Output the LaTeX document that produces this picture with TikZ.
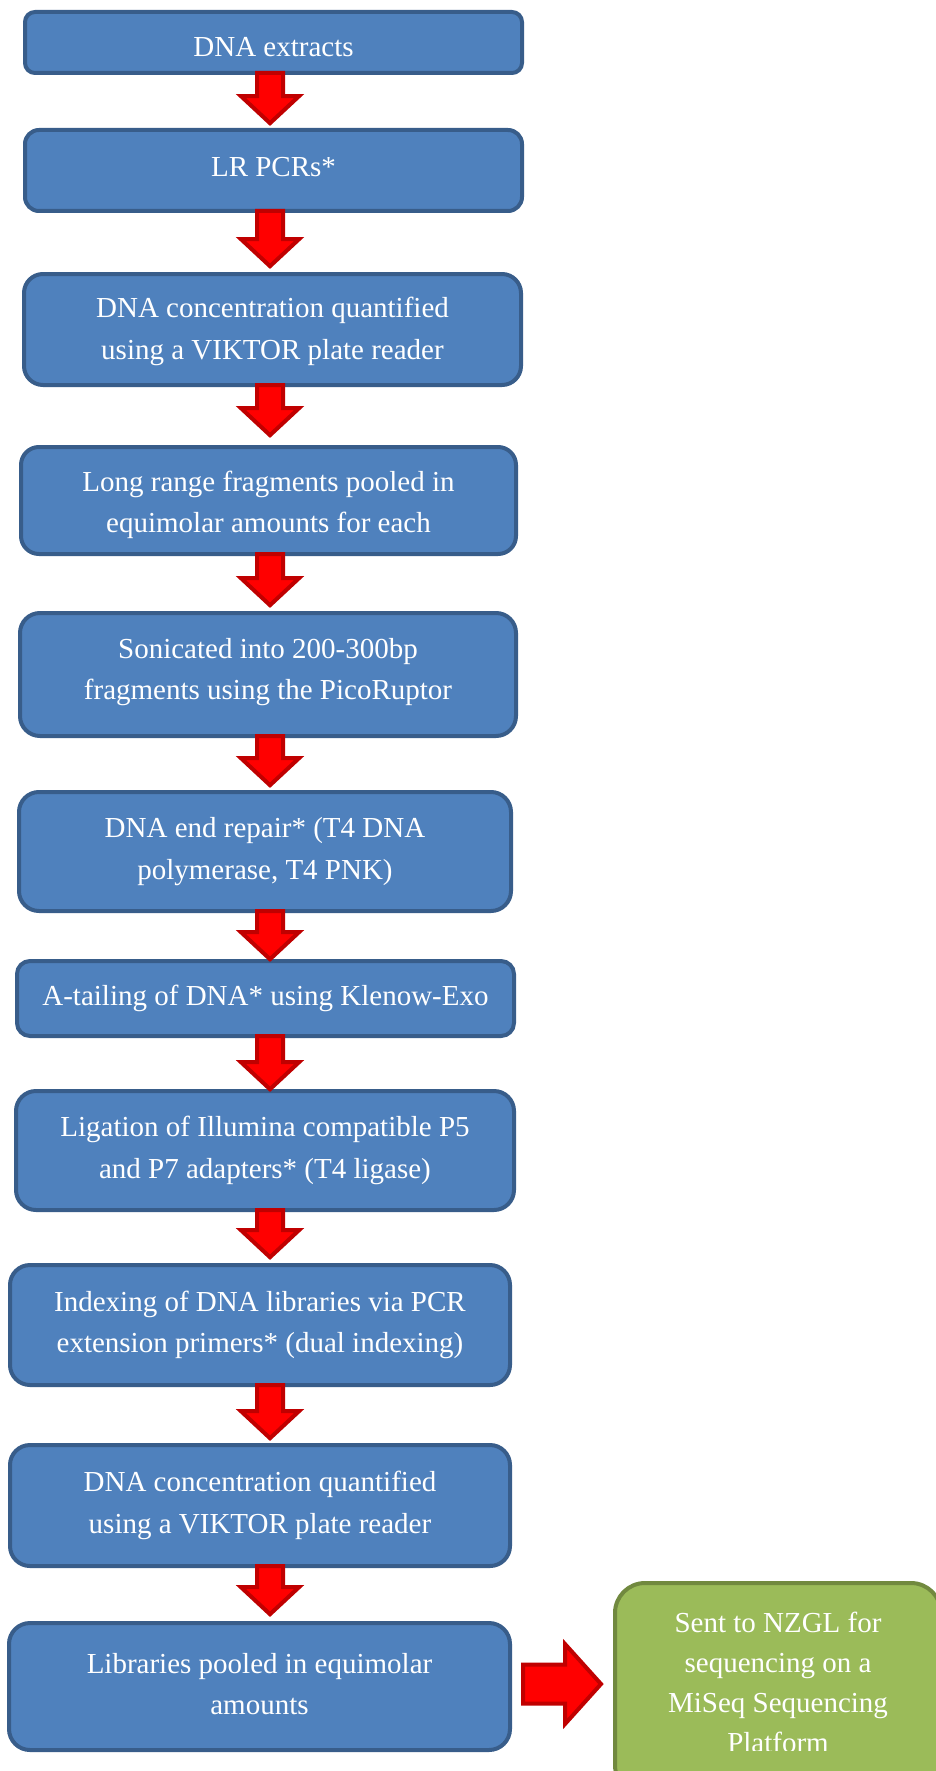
\documentclass[tikz,border=0pt]{standalone}
\usepackage{fontspec}
\setmainfont{Liberation Serif}
\usetikzlibrary{calc}
\definecolor{boxfill}{HTML}{4F81BD}
\definecolor{boxline}{HTML}{385D8A}
\definecolor{greenfill}{HTML}{9BBB59}
\definecolor{greenline}{HTML}{71893F}
\definecolor{arrowfill}{HTML}{FF0000}
\definecolor{arrowline}{HTML}{C00000}
\tikzset{
  flowbox/.style={draw=boxline, fill=boxfill, line width=4pt, rounded corners=#1,
    text=white, align=center, font=\fontsize{29}{41.5}\selectfont,
    inner sep=0pt, outer sep=0pt},
  flowbox/.default=15pt,
  greenbox/.style={draw=greenline, fill=greenfill, line width=4pt, rounded corners=30pt,
    inner sep=0pt, outer sep=0pt},
  greentext/.style={text=white, align=center, font=\fontsize{29}{40}\selectfont, inner sep=0pt},
  redarrow/.style={draw=arrowline, fill=arrowfill, line width=4pt, line join=miter},
}
\newcommand\liftline[2]{\raisebox{#1}[\height][\depth]{#2}}
\newcommand\flowarrow[3]{%
  \draw[redarrow] let \p1=(#1.south), \p2=(#2.north) in
    (257pt,\y1) -- (283pt,\y1) -- (283pt,\y2+#3pt+27pt) -- (299pt,\y2+#3pt+27pt)
    -- (270pt,\y2+#3pt) -- (241pt,\y2+#3pt+27pt) -- (257pt,\y2+#3pt+27pt) -- cycle;}
\begin{document}
\begin{tikzpicture}[x=1pt,y=-1pt]
\useasboundingbox (0,0) rectangle (935,1771);
\fill[white] (0,0) rectangle (935,1771);
\node[flowbox=10pt, minimum width=497pt, minimum height=61pt] (b1) at (273.5,42.5) {\liftline{-4.5pt}{DNA extracts}};
\node[flowbox=14pt, minimum width=497pt, minimum height=81pt] (b2) at (273.5,170.5) {\liftline{3.5pt}{LR PCRs*}};
\node[flowbox=19pt, minimum width=497pt, minimum height=111pt] (b3) at (272.5,329.5) {\liftline{-2pt}{DNA concentration quantified}\\\liftline{-2pt}{using a VIKTOR plate reader}};
\node[flowbox=18pt, minimum width=495pt, minimum height=107pt] (b4) at (268.5,500.5) {\liftline{-4.5pt}{Long range fragments pooled in}\\\liftline{-4.5pt}{equimolar amounts for each}};
\node[flowbox=20pt, minimum width=496pt, minimum height=123pt] (b5) at (268,674.5) {\liftline{2.5pt}{Sonicated into 200-300bp}\\\liftline{2.5pt}{fragments using the PicoRuptor}};
\node[flowbox=20pt, minimum width=492pt, minimum height=119pt] (b6) at (265,851.5) {DNA end repair* (T4 DNA\\polymerase, T4 PNK)};
\node[flowbox=13pt, minimum width=497pt, minimum height=75pt] (b7) at (265.5,998.5) {A-tailing of DNA* using Klenow-Exo};
\node[flowbox=20pt, minimum width=498pt, minimum height=119pt] (b8) at (265,1150.5) {Ligation of Illumina compatible P5\\and P7 adapters* (T4 ligase)};
\node[flowbox=20pt, minimum width=500pt, minimum height=120pt] (b9) at (260,1325) {Indexing of DNA libraries via PCR\\extension primers* (dual indexing)};
\node[flowbox=20pt, minimum width=500pt, minimum height=121pt] (b10) at (260,1505.5) {DNA concentration quantified\\using a VIKTOR plate reader};
\node[flowbox=21pt, minimum width=501pt, minimum height=127pt] (b11) at (259.5,1686.5) {\liftline{2.5pt}{Libraries pooled in equimolar}\\\liftline{2.5pt}{amounts}};
\node[greenbox, minimum width=326pt, minimum height=212pt] (green) at (778,1689) {};
\begin{scope}
  \clip (600,1585) rectangle (950,1750);
  \node[greentext, anchor=base] (gtext) at (778,1752) {Sent to NZGL for\\sequencing on a\\MiSeq Sequencing\\Platform};
\end{scope}
\flowarrow{b1}{b2}{6.8}
\flowarrow{b2}{b3}{7.8}
\flowarrow{b3}{b4}{11.8}
\flowarrow{b4}{b5}{7.8}
\flowarrow{b5}{b6}{6.8}
\flowarrow{b6}{b7}{1.8}
\flowarrow{b7}{b8}{1.8}
\flowarrow{b8}{b9}{7.8}
\flowarrow{b9}{b10}{6.8}
\flowarrow{b10}{b11}{8.8}
\draw[redarrow] let \p1=(b11.east), \p2=(green.west) in
  (\x1+13pt,\y1+22pt) -- (\x2-50pt,\y1+22pt) -- (\x2-50pt,\y1+42.5pt) -- (\x2-14pt,\y1+2.5pt)
  -- (\x2-50pt,\y1-37.5pt) -- (\x2-50pt,\y1-17pt) -- (\x1+13pt,\y1-17pt) -- cycle;
\end{tikzpicture}
\end{document}
